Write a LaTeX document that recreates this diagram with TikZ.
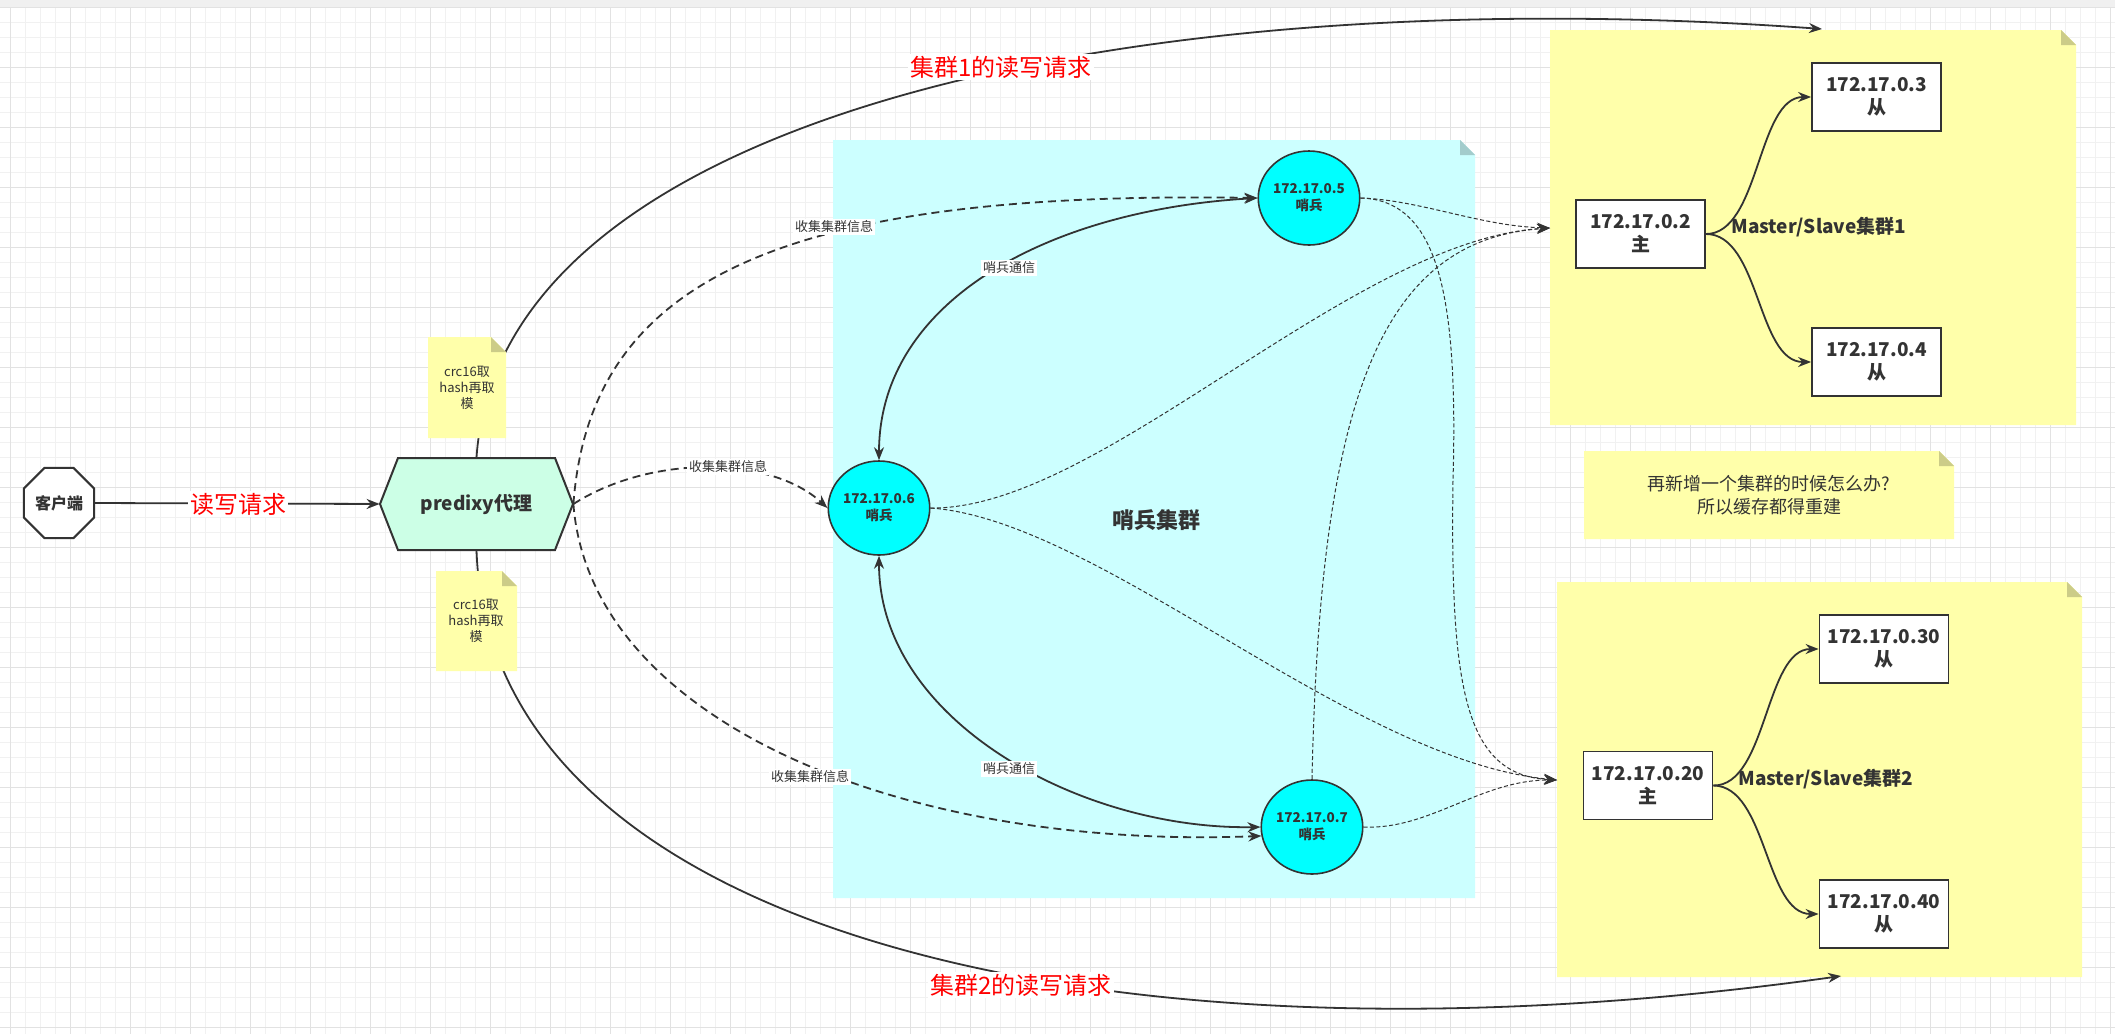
\documentclass[tikz,border=0pt]{standalone}
\usepackage{fontspec}
\setmainfont{Noto Sans CJK SC}
\usetikzlibrary{shapes.geometric,arrows.meta}
\definecolor{linec}{HTML}{333333}
\definecolor{mint}{HTML}{CCFFE6}
\definecolor{notey}{HTML}{FFFFAA}
\definecolor{foldy}{HTML}{CCCC88}
\definecolor{skyfill}{HTML}{CCFFFF}
\definecolor{skyfold}{HTML}{A3CCCC}
\definecolor{skyc}{HTML}{00FFFF}
\definecolor{gridminor}{HTML}{F1F1F1}
\definecolor{gridmajor}{HTML}{E2E2E2}
\definecolor{topbar}{HTML}{F0F0F0}
\newcommand{\notecard}[6]{%
  \fill[#1] (#3,#4) -- ({#5-15},#4) -- (#5,{#4+15}) -- (#5,#6) -- (#3,#6) -- cycle;
  \fill[#2] ({#5-15},#4) -- (#5,{#4+15}) -- ({#5-15},{#4+15}) -- cycle;}

\begin{document}
\begin{tikzpicture}[x=0.5pt, y=-0.5pt, >={Stealth[length=6.5pt,width=5pt]},
    every node/.style={text=linec},
    client/.style={regular polygon, regular polygon sides=8, draw=linec, line width=1pt, fill=white, minimum size=38pt, inner sep=0pt, font=\bfseries\fontsize{8}{10}\selectfont},
    sentinel/.style={ellipse, draw=linec, line width=0.8pt, fill=skyc, minimum width=46pt, minimum height=47pt, inner sep=0pt, align=center, font=\bfseries\fontsize{6.75}{8.5}\selectfont},
    redis/.style={rectangle, draw=linec, line width=0.9pt, fill=white, minimum width=64.5pt, minimum height=34pt, inner sep=0pt, align=center, font=\bfseries\fontsize{9.5}{11.5}\selectfont},
    link/.style={draw=linec, line width=0.9pt},
    collect/.style={link, dash pattern=on 4pt off 2.5pt},
    watch/.style={draw=linec, line width=0.5pt, dash pattern=on 2pt off 1.2pt},
    reqlabel/.style={fill=white, text=red, inner sep=1pt, font=\fontsize{12}{14}\selectfont},
    smalllabel/.style={fill=white, inner sep=1pt, font=\fontsize{6.5}{8}\selectfont},
    memo/.style={align=center, font=\fontsize{6.5}{8}\selectfont},
    mslabel/.style={anchor=west, inner sep=0pt, font=\bfseries\fontsize{9.5}{11}\selectfont}]
        \useasboundingbox (0,0) rectangle (2115,1034);
        \fill[white] (0,0) rectangle (2115,1034);
        \fill[topbar] (0,0) rectangle (2115,7);
        \foreach \gx in {10,25,...,2110} \draw[gridminor, line width=0.5pt] (\gx,7) -- (\gx,1034);
        \foreach \gy in {7,22,...,1027} \draw[gridminor, line width=0.5pt] (0,\gy) -- (2115,\gy);
        \foreach \gx in {10,70,...,2110} \draw[gridmajor, line width=0.5pt] (\gx,7) -- (\gx,1034);
        \foreach \gy in {7,67,...,1027} \draw[gridmajor, line width=0.5pt] (0,\gy) -- (2115,\gy);

        \notecard{skyfill}{skyfold}{833}{140}{1475}{898}
        \notecard{notey}{foldy}{1550}{30}{2076}{425}
        \notecard{notey}{foldy}{1557}{582}{2082}{977}
        \notecard{notey}{foldy}{1584}{451}{1954}{539}
        \filldraw[fill=mint, draw=linec, line width=1pt] (380,504) -- (398,458) -- (555,458) -- (573,504) -- (555,550) -- (398,550) -- cycle;

        \node[client] (cl) at (59,503) {客户端};
        \node[minimum width=96.5pt, minimum height=46pt, inner sep=0pt, font=\bfseries\fontsize{9.5}{11}\selectfont] (px) at (476.5,504) {predixy代理};
        \node[sentinel] (s5) at (1309,198) {172.17.0.5\\哨兵};
        \node[sentinel] (s6) at (879,508) {172.17.0.6\\哨兵};
        \node[sentinel] (s7) at (1312,827) {172.17.0.7\\哨兵};
        \node[font=\bfseries\fontsize{11}{13}\selectfont] (sg) at (1156,520) {哨兵集群};
        \node[redis] (m1) at (1640.5,234) {172.17.0.2\\主};
        \node[redis] (r3) at (1876.5,97) {172.17.0.3\\从};
        \node[redis] (r4) at (1876.5,362) {172.17.0.4\\从};
        \node[redis] (m2) at (1648,785.5) {172.17.0.20\\主};
        \node[redis] (r30) at (1884,649) {172.17.0.30\\从};
        \node[redis] (r40) at (1884,914) {172.17.0.40\\从};
        \node[align=center, font=\fontsize{9}{11.5}\selectfont] (tip) at (1769,495) {再新增一个集群的时候怎么办?\\所以缓存都得重建};
        \coordinate (g1top) at (1822,29);
        \coordinate (g1w) at (1550,228);
        \coordinate (g2w) at (1557,780);
        \coordinate (g2bot) at (1841,976);

        \draw[link,->] (cl.east) -- (px.west);
        \draw[link,->] (px.north) .. controls (500,110) and (1150,-20) .. (g1top);
        \draw[link,->] (px.south) .. controls (490,930) and (1100,1080) .. (g2bot);
        \draw[link,<->] (s6.north) .. controls (879,300) and (1050,210) .. (s5.west);
        \draw[link,<->] (s6.south) .. controls (879,720) and (1080,830) .. (s7.west);
        \draw[collect,->] (px.east) .. controls (590,280) and (780,190) .. (s5.west);
        \draw[collect,->] (px.east) .. controls (650,455) and (770,455) .. (s6.west);
        \draw[collect,->] (px.east) .. controls (590,720) and (900,850) .. (s7.190);
        \draw[watch,->] (s5.east) .. controls (1420,200) and (1480,226) .. (g1w);
        \draw[watch,->] (s5.east) .. controls (1440,200) and (1458,300) .. (1453,480) .. controls (1450,690) and (1465,775) .. (g2w);
        \draw[watch,->] (s6.east) .. controls (1100,510) and (1350,240) .. (g1w);
        \draw[watch,->] (s6.east) .. controls (1100,520) and (1350,760) .. (g2w);
        \draw[watch,->] (s7.north) .. controls (1320,400) and (1380,240) .. (g1w);
        \draw[watch,->] (s7.east) .. controls (1430,830) and (1480,780) .. (g2w);
        \draw[link,->] (m1.east) .. controls (1760,234) and (1757,97) .. (r3.west);
        \draw[link,->] (m1.east) .. controls (1760,234) and (1757,362) .. (r4.west);
        \draw[link,->] (m2.east) .. controls (1767,786) and (1765,649) .. (r30.west);
        \draw[link,->] (m2.east) .. controls (1767,786) and (1765,914) .. (r40.west);

        \notecard{notey}{foldy}{428}{337}{506}{438}
        \node[memo] (crc1) at (467,388) {crc16取\\hash再取\\模};
        \notecard{notey}{foldy}{436}{571}{517}{671}
        \node[memo] (crc2) at (476,621) {crc16取\\hash再取\\模};

        \node[reqlabel] (rw) at (238,504) {读写请求};
        \node[reqlabel] (rw1) at (1001,67) {集群1的读写请求};
        \node[reqlabel] (rw2) at (1021,985) {集群2的读写请求};
        \node[smalllabel] (ci1) at (834,227) {收集集群信息};
        \node[smalllabel] (ci2) at (728,467) {收集集群信息};
        \node[smalllabel] (ci3) at (810,777) {收集集群信息};
        \node[smalllabel] (sc1) at (1009,268) {哨兵通信};
        \node[smalllabel] (sc2) at (1009,769) {哨兵通信};
        \node[mslabel] (ms1) at (1731,227) {Master/Slave集群1};
        \node[mslabel] (ms2) at (1738,779) {Master/Slave集群2};
    \end{tikzpicture}
\end{document}
